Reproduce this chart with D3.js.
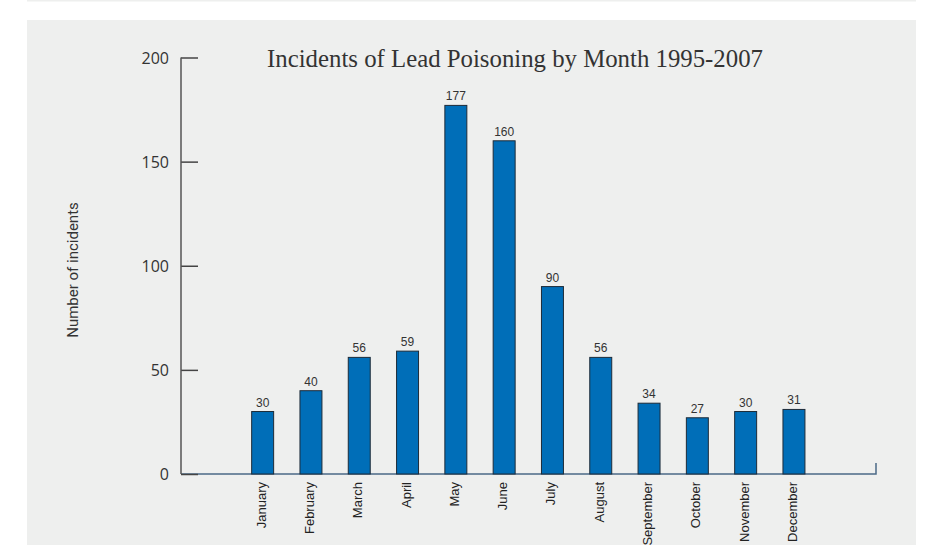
<!DOCTYPE html>
<html lang="en">
<head>
	<meta charset="UTF-8">
	<title>Lead Poisoning by Month</title>
	<script src="https://cdn.jsdelivr.net/npm/d3@7"></script>
	<style>
		body { margin: 0; background: #fff; }
	</style>
</head>
<body>
	<div id="container"></div>
	<script>
		var months = ["January", "February", "March", "April", "May", "June",
			"July", "August", "September", "October", "November", "December"];
		var incidents = [30, 40, 56, 59, 177, 160, 90, 56, 34, 27, 30, 31];
		var yTicks = [0, 50, 100, 150, 200];

		var width = 934, height = 545;
		var svg = d3.select("#container").append("svg")
				.attr("width", width)
				.attr("height", height);

		// thin strip at the very top, then the grey panel
		svg.append("rect")
			.attr("x", 27).attr("y", 0)
			.attr("width", 889).attr("height", 1.5)
			.attr("fill", "#eeefee");
		svg.append("rect")
			.attr("x", 27).attr("y", 20)
			.attr("width", 889).attr("height", height - 20)
			.attr("fill", "#eeefee");

		var y = d3.scaleLinear()
				.domain([0, 200])
				.range([474, 57.5]);

		var x = d3.scaleBand()
				.domain(months)
				.range([238.5, 818.1])
				.paddingInner(0.545)
				.paddingOuter(0.2725);

		var axisX = 181;

		// x baseline with little end tick
		svg.append("path")
			.attr("d", "M" + axisX + "," + y(0) + "H876V463")
			.attr("fill", "none")
			.attr("stroke", "#4b6a86")
			.attr("stroke-width", 1.5);

		// y axis
		var yAxis = svg.append("g")
				.attr("transform", "translate(" + axisX + ",0)")
				.call(d3.axisRight(y).tickValues(yTicks).tickSize(17).tickFormat(""));
		yAxis.select(".domain").remove();
		yAxis.selectAll(".tick line")
			.attr("stroke", "#444")
			.attr("stroke-width", 1.5);
		svg.append("line")
			.attr("x1", axisX).attr("x2", axisX)
			.attr("y1", y(200)).attr("y2", y(0))
			.attr("stroke", "#555")
			.attr("stroke-width", 1.5);

		svg.selectAll(".ylab").data(yTicks)
			.enter().append("text")
				.attr("class", "ylab")
				.attr("x", 169)
				.attr("y", d => y(d) + 6)
				.attr("text-anchor", "end")
				.attr("font-family", "Open Sans, sans-serif")
				.attr("font-size", 16)
				.attr("fill", "#333")
				.text(d => d);

		svg.append("text")
			.attr("transform", "translate(78,270) rotate(-90)")
			.attr("text-anchor", "middle")
			.attr("font-family", "Roboto, sans-serif")
			.attr("font-size", 15)
			.attr("fill", "#333")
			.text("Number of incidents");

		svg.append("text")
			.attr("x", 515)
			.attr("y", 67)
			.attr("text-anchor", "middle")
			.attr("font-family", "Liberation Serif, serif")
			.attr("font-size", 24.8)
			.attr("fill", "#333")
			.text("Incidents of Lead Poisoning by Month 1995-2007");

		svg.selectAll(".bar").data(incidents)
			.enter().append("rect")
				.attr("class", "bar")
				.attr("x", (d, i) => x(months[i]))
				.attr("y", d => y(d))
				.attr("width", x.bandwidth())
				.attr("height", d => y(0) - y(d))
				.attr("fill", "#006eb8")
				.attr("stroke", "#1d2b38")
				.attr("stroke-width", 1);

		svg.selectAll(".val").data(incidents)
			.enter().append("text")
				.attr("class", "val")
				.attr("x", (d, i) => x(months[i]) + x.bandwidth() / 2)
				.attr("y", d => y(d) - 5)
				.attr("text-anchor", "middle")
				.attr("font-family", "Liberation Sans, Arial, sans-serif")
				.attr("font-size", 12)
				.attr("fill", "#333")
				.text(d => d);

		svg.selectAll(".mlab").data(months)
			.enter().append("text")
				.attr("class", "mlab")
				.attr("transform", d => "translate(" + (x(d) + x.bandwidth() / 2 + 3) + ",482) rotate(-90)")
				.attr("text-anchor", "end")
				.attr("font-family", "Liberation Sans, Arial, sans-serif")
				.attr("font-size", 13)
				.attr("fill", "#222")
				.text(d => d);
	</script>
</body>
</html>
